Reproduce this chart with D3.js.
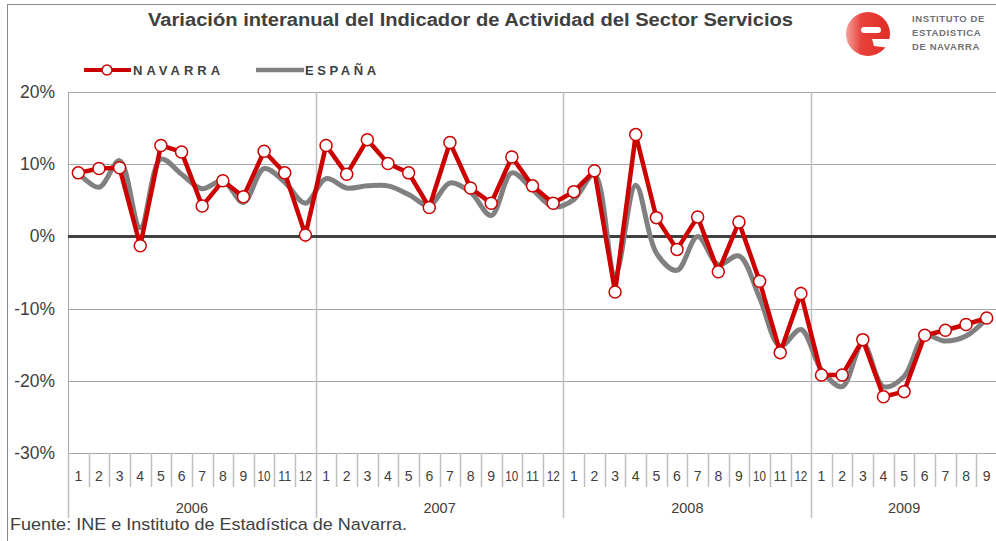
<!DOCTYPE html>
<html>
<head>
<meta charset="utf-8">
<script src="https://cdn.jsdelivr.net/npm/d3@7"></script>
<style>
  body { margin: 0; background: #fff; }
  svg { display: block; font-family: "Liberation Sans", Arial, sans-serif; }
</style>
</head>
<body>
<svg id="chart" width="996" height="541"></svg>
<script>
// data (interannual variation, %)
const years = ["2006", "2007", "2008", "2009"];
const monthsPerYear = [12, 12, 12, 9];
const navarra = [
    8.8, 9.4, 9.5, -1.3, 12.6, 11.7, 4.2, 7.7, 5.5, 11.8, 8.8, 0.2,
    12.6, 8.6, 13.4, 10.1, 8.8, 4.0, 13.0, 6.7, 4.6, 11.0, 7.0, 4.6,
    6.2, 9.1, -7.7, 14.1, 2.6, -1.8, 2.7, -4.9, 2.0, -6.2, -16.1, -7.9,
    -19.2, -19.2, -14.3, -22.2, -21.5, -13.7, -13.0, -12.2, -11.3
];
const espana = [
    8.8, 6.8, 10.5, 1.2, 10.7, 8.6, 6.6, 7.7, 4.7, 9.4, 7.5, 4.6,
    8.0, 6.7, 7.0, 7.0, 5.8, 4.3, 7.4, 6.1, 2.9, 8.8, 6.5, 4.1,
    5.1, 8.6, -5.3, 7.1, -2.3, -4.7, 0.0, -3.9, -2.7, -8.5, -15.2, -12.9,
    -18.5, -20.8, -14.8, -20.8, -19.4, -13.8, -14.5, -13.8, -11.4
];
const yTicks = [20, 10, 0, -10, -20, -30];

const months = [];
years.forEach((y, yi) => {
    for (let m = 1; m <= monthsPerYear[yi]; m++) months.push({ year: y, month: m });
});

const svg = d3.select("#chart");
const plotL = 68, plotR = 997, plotT = 92, plotB = 453;
const textCol = "#404040";

const x = d3.scaleBand().domain(d3.range(months.length)).range([plotL, plotR]);
const y = d3.scaleLinear().domain([-30, 20]).range([plotB, plotT]);
const cx = i => x(i) + x.bandwidth() / 2;

// outer frame
svg.append("rect")
    .attr("x", 7.5).attr("y", 4.5).attr("width", 1000).attr("height", 560)
    .attr("fill", "none").attr("stroke", "#8c8c8c").attr("stroke-width", 1);

// title
svg.append("text")
    .attr("x", 148).attr("y", 26)
    .attr("font-size", 18).attr("font-weight", "bold")
    .attr("textLength", 645).attr("lengthAdjust", "spacingAndGlyphs")
    .attr("fill", textCol)
    .text("Variación interanual del Indicador de Actividad del Sector Servicios");

// logo
const logo = svg.append("g");
const grad = svg.append("defs").append("linearGradient").attr("id", "lg");
grad.append("stop").attr("offset", "0%").attr("stop-color", "#f4a09c");
grad.append("stop").attr("offset", "35%").attr("stop-color", "#e8413b");
grad.append("stop").attr("offset", "100%").attr("stop-color", "#e02c26");
logo.append("circle").attr("cx", 868).attr("cy", 34).attr("r", 22).attr("fill", "url(#lg)");
logo.append("rect").attr("x", 861).attr("y", 27).attr("width", 20).attr("height", 6).attr("rx", 3).attr("fill", "#fff");
logo.append("path").attr("d", "M872,39 L892,39 L890,48 L874,46 Z").attr("fill", "#fff");
[["INSTITUTO DE", 22], ["ESTADISTICA", 36], ["DE NAVARRA", 50]].forEach(d => {
    logo.append("text")
        .attr("x", 912).attr("y", d[1])
        .attr("font-size", 9.5).attr("font-weight", "bold")
        .attr("letter-spacing", 0.6)
        .attr("fill", "#707070")
        .text(d[0]);
});

// legend
const leg = svg.append("g");
leg.append("line").attr("x1", 84).attr("x2", 131).attr("y1", 70).attr("y2", 70)
    .attr("stroke", "#cc0000").attr("stroke-width", 4);
leg.append("circle").attr("cx", 107).attr("cy", 70).attr("r", 5)
    .attr("fill", "#fff").attr("stroke", "#cc0000").attr("stroke-width", 1.5);
leg.append("text").attr("x", 133).attr("y", 75)
    .attr("font-size", 13).attr("font-weight", "bold").attr("letter-spacing", 4)
    .attr("fill", textCol).text("NAVARRA");
leg.append("line").attr("x1", 256).attr("x2", 304).attr("y1", 70).attr("y2", 70)
    .attr("stroke", "#808080").attr("stroke-width", 4.5);
leg.append("text").attr("x", 305).attr("y", 75)
    .attr("font-size", 13).attr("font-weight", "bold").attr("letter-spacing", 3.6)
    .attr("fill", textCol).text("ESPAÑA");

// horizontal gridlines
svg.append("g").selectAll("line")
    .data(yTicks.filter(d => d !== 0))
    .enter().append("line")
    .attr("x1", plotL).attr("x2", plotR)
    .attr("y1", d => Math.round(y(d)) + 0.5).attr("y2", d => Math.round(y(d)) + 0.5)
    .attr("stroke", "#a6a6a6").attr("stroke-width", 1);

// y labels
svg.append("g").selectAll("text")
    .data(yTicks)
    .enter().append("text")
    .attr("x", 55).attr("y", d => y(d) + 6)
    .attr("text-anchor", "end")
    .attr("font-size", 17.5).attr("fill", textCol)
    .text(d => d + "%");

// left axis line
svg.append("line").attr("x1", plotL + 0.5).attr("x2", plotL + 0.5)
    .attr("y1", plotT).attr("y2", plotB).attr("stroke", "#a6a6a6");

// year separators and labels
let start = 0;
const yearStarts = [];
years.forEach((yr, yi) => {
    yearStarts.push(start);
    const x0 = x(start), x1 = start + monthsPerYear[yi] >= months.length ? plotR : x(start + monthsPerYear[yi]);
    svg.append("text")
        .attr("x", (x0 + x1) / 2).attr("y", 513)
        .attr("text-anchor", "middle")
        .attr("font-size", 14.5).attr("fill", textCol)
        .text(yr);
    start += monthsPerYear[yi];
});
svg.append("g").selectAll("line")
    .data(yearStarts.slice(1))
    .enter().append("line")
    .attr("x1", d => Math.round(x(d)) + 0.5).attr("x2", d => Math.round(x(d)) + 0.5)
    .attr("y1", plotT).attr("y2", 518)
    .attr("stroke", "#bfbfbf").attr("stroke-width", 1.5);
svg.append("line").attr("x1", plotL + 0.5).attr("x2", plotL + 0.5)
    .attr("y1", plotB).attr("y2", 518).attr("stroke", "#bfbfbf").attr("stroke-width", 1.5);

// month separators and labels
svg.append("g").selectAll("line")
    .data(d3.range(1, months.length).filter(i => !yearStarts.includes(i)))
    .enter().append("line")
    .attr("x1", d => Math.round(x(d)) + 0.5).attr("x2", d => Math.round(x(d)) + 0.5)
    .attr("y1", plotB).attr("y2", 487)
    .attr("stroke", "#bfbfbf").attr("stroke-width", 1.5);
svg.append("g").selectAll("text")
    .data(months)
    .enter().append("text")
    .attr("x", (d, i) => cx(i)).attr("y", 481)
    .attr("text-anchor", "middle")
    .attr("font-size", 14).attr("fill", textCol)
    .each(function (d) {
        if (d.month >= 10) d3.select(this).attr("textLength", 13).attr("lengthAdjust", "spacingAndGlyphs");
    })
    .text(d => d.month);

// zero line
svg.append("line").attr("x1", plotL).attr("x2", plotR)
    .attr("y1", y(0)).attr("y2", y(0))
    .attr("stroke", "#404040").attr("stroke-width", 3);

// series
const grayLine = d3.line().x((d, i) => cx(i)).y(d => y(d)).curve(d3.curveCatmullRom.alpha(0.5));
const redLine = d3.line().x((d, i) => cx(i)).y(d => y(d));

svg.append("path").datum(espana)
    .attr("d", grayLine)
    .attr("fill", "none").attr("stroke", "#808080").attr("stroke-width", 5)
    .attr("stroke-linejoin", "round");

svg.append("path").datum(navarra)
    .attr("d", redLine)
    .attr("fill", "none").attr("stroke", "#cc0000").attr("stroke-width", 4.5)
    .attr("stroke-linejoin", "miter");

svg.append("g").selectAll("circle")
    .data(navarra)
    .enter().append("circle")
    .attr("cx", (d, i) => cx(i)).attr("cy", d => y(d))
    .attr("r", 6)
    .attr("fill", "#fff").attr("stroke", "#cc0000").attr("stroke-width", 1.5);

// source
svg.append("text")
    .attr("x", 10).attr("y", 530)
    .attr("font-size", 17)
    .attr("textLength", 397).attr("lengthAdjust", "spacingAndGlyphs")
    .attr("fill", textCol)
    .text("Fuente: INE e Instituto de Estadística de Navarra.");
</script>
</body>
</html>
